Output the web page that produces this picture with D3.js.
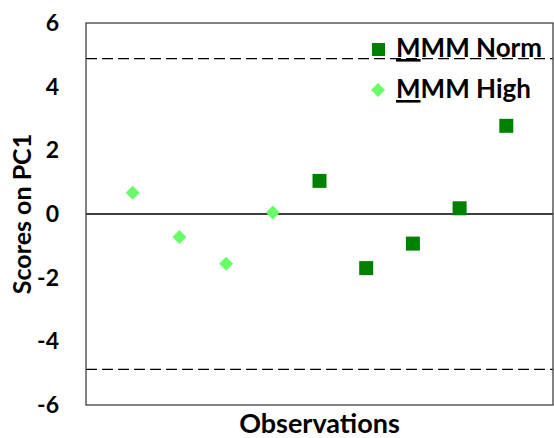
<!DOCTYPE html>
<html><head><meta charset="utf-8">
<script src="https://cdn.jsdelivr.net/npm/d3@7"></script>
<style>body{margin:0;background:#fff}svg{display:block}text{font-family:Lato,"Open Sans",sans-serif;font-weight:bold}</style>
</head><body>
<script>
const normObs = [5, 6, 7, 8, 9];
const normScores = [1.04, -1.70, -0.93, 0.18, 2.77];
const highObs = [1, 2, 3, 4];
const highScores = [0.67, -0.72, -1.56, 0.05];
const yTicks = [-6, -4, -2, 0, 2, 4, 6];
const limit = 4.88;
const seriesNames = ["MMM Norm", "MMM High"];

const W = 554, H = 438;
const m = {l: 86, r: 1, t: 23, b: 33};
const svg = d3.select("body").append("svg").attr("width", W).attr("height", H);
const x = d3.scaleLinear().domain([0, 10]).range([m.l, W - m.r]);
const y = d3.scaleLinear().domain([-6, 6]).range([H - m.b, m.t]);

// y axis labels
const ya = svg.append("g").attr("transform", `translate(${m.l},0)`)
  .call(d3.axisLeft(y).tickValues(yTicks).tickSize(0).tickPadding(27).tickFormat(d => String(d)));
ya.select(".domain").remove();
ya.selectAll("text").attr("font-size", 23).attr("fill", "#000").style("font-family", "Lato").style("font-weight", "bold");

// limit lines
[limit, -limit].forEach(v => {
  svg.append("line").attr("x1", x(0)).attr("x2", x(10)).attr("y1", y(v)).attr("y2", y(v))
    .attr("stroke", "#000").attr("stroke-width", 1.3).attr("stroke-dasharray", "11,5");
});
// zero line
svg.append("line").attr("x1", x(0)).attr("x2", x(10)).attr("y1", y(0)).attr("y2", y(0))
  .attr("stroke", "#000").attr("stroke-width", 1.3);

// frame
svg.append("rect").attr("x", x(0)).attr("y", y(6)).attr("width", x(10) - x(0)).attr("height", y(-6) - y(6))
  .attr("fill", "none").attr("stroke", "#404040").attr("stroke-width", 1.3);

// points
const sq = 14;
svg.selectAll("rect.norm").data(normObs.map((o, i) => [o, normScores[i]])).enter().append("rect")
  .attr("class", "norm").attr("x", d => x(d[0]) - sq / 2).attr("y", d => y(d[1]) - sq / 2)
  .attr("width", sq).attr("height", sq).attr("fill", "#008000");
const dsym = d3.symbol().type(d3.symbolDiamond2).size(125);
svg.selectAll("path.high").data(highObs.map((o, i) => [o, highScores[i]])).enter().append("path")
  .attr("class", "high").attr("d", dsym).attr("transform", d => `translate(${x(d[0])},${y(d[1])})`)
  .attr("fill", "#66FF66");

// legend
svg.append("rect").attr("x", 372).attr("y", 43).attr("width", 13).attr("height", 13).attr("fill", "#008000");
svg.append("path").attr("d", dsym).attr("transform", "translate(378,90)").attr("fill", "#66FF66");
seriesNames.forEach((n, i) => {
  const t = svg.append("text").attr("x", 396).attr("y", 57 + i * 41).attr("font-size", 26).attr("fill", "#000");
  t.append("tspan").attr("text-decoration", "underline").text(n[0]);
  t.append("tspan").text(n.slice(1));
});

// titles
svg.append("text").attr("x", x(5)).attr("y", 433).attr("text-anchor", "middle").attr("font-size", 27).text("Observations");
svg.append("text").attr("transform", `translate(31,${y(0)}) rotate(-90)`).attr("text-anchor", "middle")
  .attr("font-size", 25).text("Scores on PC1");
</script>
</body></html>
